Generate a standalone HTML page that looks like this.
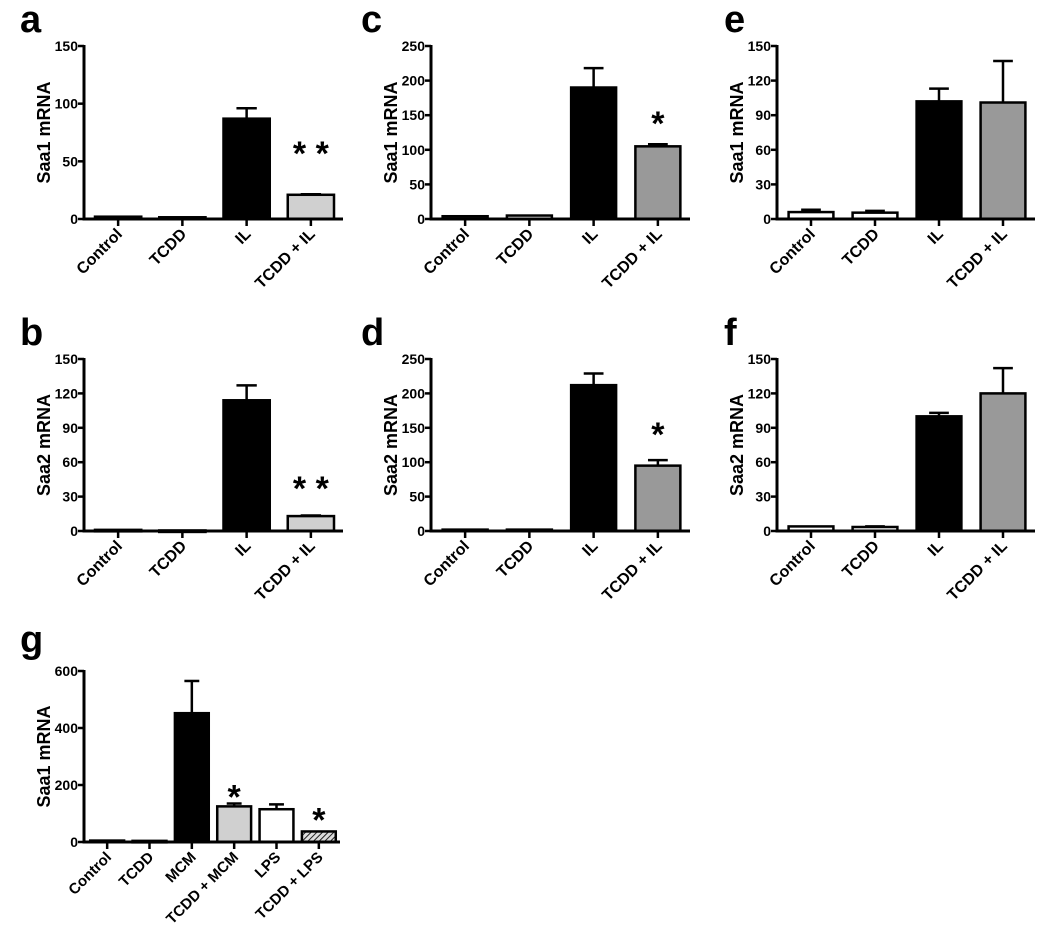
<!DOCTYPE html>
<html><head><meta charset="utf-8"><style>
body{margin:0;background:#fff}
svg text{font-family:"Liberation Sans",Arial,sans-serif;font-weight:bold}
</style></head><body>
<svg id="fig" width="1050" height="944" viewBox="0 0 1050 944" xmlns="http://www.w3.org/2000/svg">
<defs><pattern id="hatch" patternUnits="userSpaceOnUse" width="4" height="4" patternTransform="rotate(45)"><rect width="4" height="4" fill="#ddd"/><line x1="0" y1="0" x2="0" y2="4" stroke="#222" stroke-width="2"/></pattern></defs>
</svg>
<script>
const cats4 = ["Control","TCDD","IL","TCDD + IL"];
const catsG = ["Control","TCDD","MCM","TCDD + MCM","LPS","TCDD + LPS"];
const valsA = [2,1.5,87,21];   const errA = [0,0,9,0.5];
const valsB = [1,0.5,114,13];  const errB = [0,0,13,0.5];
const valsC = [4,5,190,105];   const errC = [0,0,28,3];
const valsD = [2,2,212,95];    const errD = [0,0,17,8];
const valsE = [6,5.5,102,101]; const errE = [2,1.5,11,36];
const valsF = [4,3.5,100,120]; const errF = [0,0.5,3,22];
const valsG = [5,4,452,125,115,37]; const errG = [0,0,113,10,17,0];
const ticksA = [0,50,100,150];
const ticks250 = [0,50,100,150,200,250];
const ticks150 = [0,30,60,90,120,150];
const ticksG = [0,200,400,600];
const starsA = [null,null,null,60];
const starsB = [null,null,null,40];
const starsC = [null,null,null,143];
const starsD = [null,null,null,145];
const starsG = [null,null,null,170,null,90];

const svg=document.getElementById('fig');
const NS='http://www.w3.org/2000/svg';
function mk(tag,attrs,parent){const e=document.createElementNS(NS,tag);for(const k in attrs)e.setAttribute(k,attrs[k]);(parent||svg).appendChild(e);return e;}

function panel(o){
  const g=mk('g',{});
  
  
  const n=o.cats.length, ymax=o.ticks[o.ticks.length-1];
  const band=(o.x1-o.x0-2)/n;
  const xs=i=>o.x0+2+band*(i+0.5);
  const ys=v=>o.y0-(v/ymax)*(o.y0-o.yt);
  const L=mk('text',{x:o.lx,y:o.ly,'font-size':38},g);L.textContent=o.letter;
  
  
  o.vals.forEach((v,i)=>{
    const w=band*o.bf, x=xs(i)-w/2, y=ys(v);
    if(o.errs[i]>0){
      const ye=ys(v+o.errs[i]);
      mk('line',{x1:xs(i),x2:xs(i),y1:y,y2:ye,stroke:'#000','stroke-width':2.5},g);
      mk('line',{x1:xs(i)-w*0.22,x2:xs(i)+w*0.22,y1:ye,y2:ye,stroke:'#000','stroke-width':2.5},g);
    }
    const r=mk('rect',{x:x,y:y,width:w,height:Math.max(o.y0-y,1.5),fill:o.fills[i],stroke:'#000','stroke-width':2.5},g);
    
    
    if(o.stars[i]!=null){
      const s=mk('text',{x:xs(i),y:ys(o.stars[i])+15,'font-size':34,'text-anchor':'middle','xml:space':'preserve'},g);
      s.textContent=o.double?'*   *':'*';
      
      
    }
    mk('line',{x1:xs(i),x2:xs(i),y1:o.y0,y2:o.y0+7,stroke:'#000','stroke-width':2.5},g);
    const t=mk('text',{x:xs(i)+5,y:o.y0+16,'font-size':o.xfs||16,'text-anchor':'end',transform:`rotate(-45 ${xs(i)+5} ${o.y0+16})`},g);
    t.textContent=o.cats[i];
    
    
  });
  mk('line',{x1:o.x0,x2:o.x0,y1:o.yt-1,y2:o.y0+1.5,stroke:'#000','stroke-width':3},g);
  mk('line',{x1:o.x0,x2:o.x1,y1:o.y0,y2:o.y0,stroke:'#000','stroke-width':3},g);
  o.ticks.forEach(tv=>{
    const y=ys(tv);
    mk('line',{x1:o.x0-6,x2:o.x0,y1:y,y2:y,stroke:'#000','stroke-width':2.5},g);
    const t=mk('text',{x:o.x0-6,y:y+5,'font-size':14,'text-anchor':'end'},g);
    t.textContent=tv;
    
    
  });
  const cy=(o.yt+o.y0)/2;
  const yt=mk('text',{x:o.ax,y:cy,'font-size':18,'text-anchor':'middle',transform:`rotate(-90 ${o.ax} ${cy})`},g);
  yt.textContent=o.ylabel;
  
  
}
const W='#fff',K='#000',LG='#d0d0d0',MG='#999';
panel({letter:'a',lx:20,ly:32,x0:84,x1:343,yt:46,y0:219,ax:50,cats:cats4,vals:valsA,errs:errA,ticks:ticksA,stars:starsA,double:true,fills:[W,W,K,LG],bf:0.72,ylabel:'Saa1 mRNA'});
panel({letter:'c',lx:361,ly:32,x0:431,x1:690,yt:46,y0:219,ax:397,cats:cats4,vals:valsC,errs:errC,ticks:ticks250,stars:starsC,fills:[W,W,K,MG],bf:0.7,ylabel:'Saa1 mRNA'});
panel({letter:'e',lx:724,ly:32,x0:777,x1:1035,yt:46,y0:219,ax:743,cats:cats4,vals:valsE,errs:errE,ticks:ticks150,stars:[null,null,null,null],fills:[W,W,K,MG],bf:0.7,ylabel:'Saa1 mRNA'});
panel({letter:'b',lx:20,ly:345,x0:84,x1:343,yt:359,y0:531,ax:50,cats:cats4,vals:valsB,errs:errB,ticks:ticks150,stars:starsB,double:true,fills:[W,W,K,LG],bf:0.72,ylabel:'Saa2 mRNA'});
panel({letter:'d',lx:361,ly:345,x0:431,x1:690,yt:359,y0:531,ax:397,cats:cats4,vals:valsD,errs:errD,ticks:ticks250,stars:starsD,fills:[W,W,K,MG],bf:0.7,ylabel:'Saa2 mRNA'});
panel({letter:'f',lx:724,ly:345,x0:777,x1:1035,yt:359,y0:531,ax:743,cats:cats4,vals:valsF,errs:errF,ticks:ticks150,stars:[null,null,null,null],fills:[W,W,K,MG],bf:0.7,ylabel:'Saa2 mRNA'});
panel({letter:'g',lx:20,ly:652,x0:84,x1:340,yt:671,y0:842,ax:50,cats:catsG,vals:valsG,errs:errG,ticks:ticksG,stars:starsG,fills:[W,W,K,LG,W,'url(#hatch)'],bf:0.8,xfs:15,ylabel:'Saa1 mRNA'});
</script>
</body></html>
